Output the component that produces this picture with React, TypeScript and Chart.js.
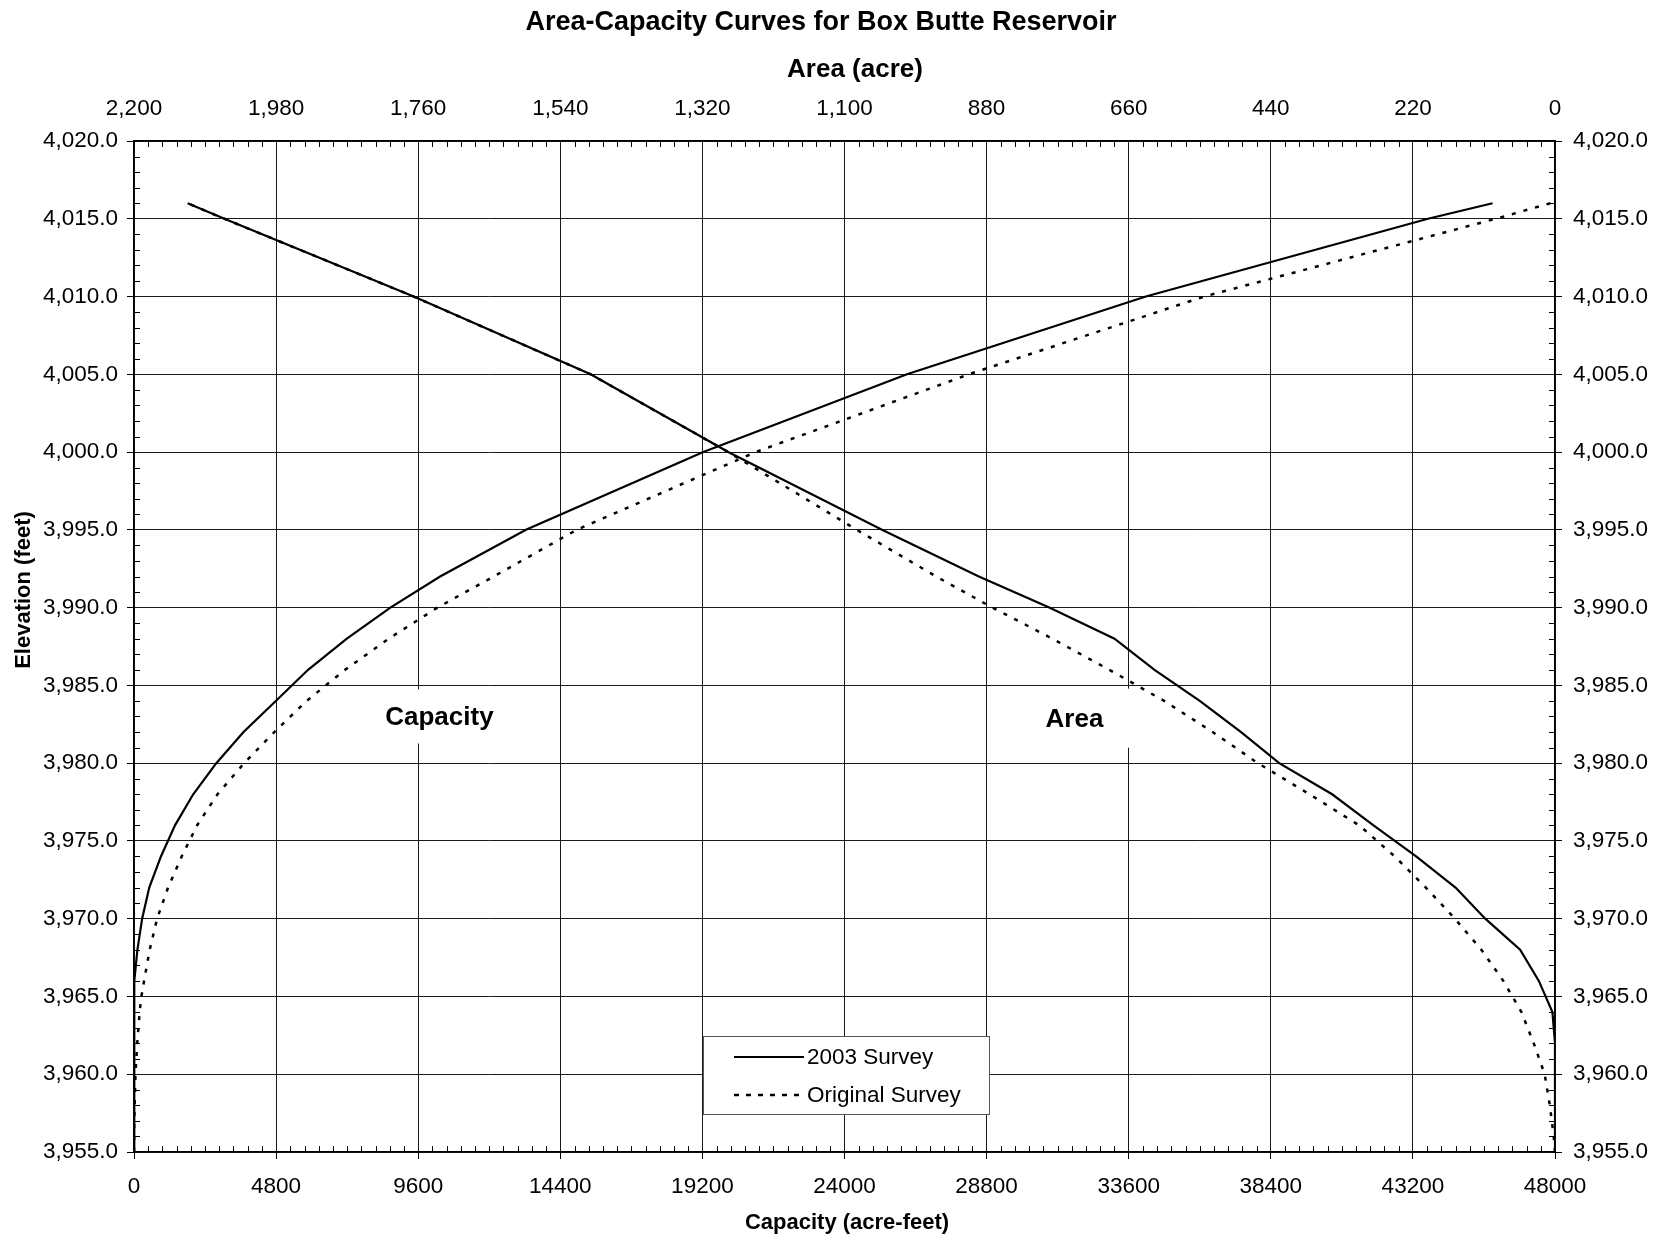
import React, { useEffect, useRef } from "react";
import { Chart, registerables } from "chart.js";

Chart.register(...registerables);

// ---- Data ----
const elev2003Capacity = [3955, 3960, 3962, 3964, 3966, 3968, 3970, 3972, 3974, 3976, 3978, 3980, 3982, 3984, 3986, 3988, 3990, 3992, 3995, 4000, 4005, 4010, 4015, 4016];
const capacity2003 = [0, 0, 1, 5, 33, 115, 275, 515, 910, 1385, 2000, 2780, 3700, 4790, 5880, 7190, 8660, 10340, 13240, 19230, 26110, 34180, 43710, 45890];

const elevOriginalCapacity = [3955, 3957, 3960, 3962, 3964, 3965, 3966, 3968, 3970, 3972, 3974, 3976, 3978, 3980, 3982, 3984, 3986, 3988, 3990, 3992, 3995, 4000, 4005, 4010, 4015, 4016];
const capacityOriginal = [0, 8, 50, 110, 190, 250, 340, 530, 780, 1150, 1610, 2130, 2820, 3720, 4740, 5830, 7130, 8600, 10250, 12150, 14950, 21000, 28200, 36150, 46000, 47850];

const elev2003Area = [3955, 3960, 3962, 3964, 3966, 3968, 3970, 3972, 3974, 3976, 3978, 3980, 3982, 3984, 3986, 3988, 3990, 3992, 3995, 4000, 4005, 4010, 4015, 4016];
const area2003 = [0, 0, 0, 4, 25, 54, 108, 154, 215, 281, 345, 427, 486, 550, 620, 682, 783, 892, 1042, 1280, 1493, 1767, 2060, 2117];

const elevOriginalArea = [3955, 3956, 3958, 3960, 3962, 3964, 3966, 3968, 3970, 3972, 3974, 3976, 3978, 3980, 3982, 3984, 3986, 3988, 3990, 3992, 3995, 3998, 4000, 4005, 4010, 4015, 4016];
const areaOriginal = [0, 2, 8, 16, 33, 52, 80, 114, 155, 200, 248, 303, 380, 460, 530, 605, 690, 778, 871, 958, 1081, 1200, 1280, 1493, 1767, 2060, 2117];

// ---- Axis ranges / tick steps ----
const CAP_MIN = 0;
const CAP_MAX = 48000;
const CAP_STEP = 4800;
const CAP_MINOR = 480;
const AREA_MIN = 0;
const AREA_MAX = 2200;
const AREA_STEP = 220;
const AREA_MINOR = 22;
const ELEV_MIN = 3955;
const ELEV_MAX = 4020;
const ELEV_STEP = 5;
const ELEV_MINOR = 1;

const TITLE = "Area-Capacity Curves for Box Butte Reservoir";
const TOP_AXIS_TITLE = "Area (acre)";
const BOTTOM_AXIS_TITLE = "Capacity (acre-feet)";
const LEFT_AXIS_TITLE = "Elevation (feet)";
const SERIES_NAMES = ["2003 Survey", "Original Survey"];
const CAPACITY_LABEL = { text: "Capacity", capacity: 10316, elevation: 3983.0 };
const AREA_LABEL = { text: "Area", area: 744, elevation: 3982.86 };

const FONT = "'Liberation Sans', Arial, Helvetica, sans-serif";
const DOT_DASH = [4, 8];

const toPts = (xs: number[], ys: number[]) => xs.map((x, i) => ({ x, y: ys[i] }));

const fmtElev = (v: number) =>
  Number(v).toLocaleString("en-US", { minimumFractionDigits: 1, maximumFractionDigits: 1 });

const decorPlugin = {
  id: "decor",
  beforeDatasetsDraw(chart: any) {
    const { ctx, scales } = chart;
    ctx.save();
    ctx.font = `bold 26px ${FONT}`;
    ctx.textBaseline = "middle";
    ctx.textAlign = "center";
    {
      const cx = scales.x.getPixelForValue(CAPACITY_LABEL.capacity);
      const cy = scales.y.getPixelForValue(CAPACITY_LABEL.elevation);
      const w = ctx.measureText(CAPACITY_LABEL.text).width;
      ctx.fillStyle = "#fff";
      ctx.fillRect(cx - w / 2 - 8, cy - 27, w + 16, 54);
      ctx.fillStyle = "#000";
      ctx.fillText(CAPACITY_LABEL.text, cx, cy + 1);
    }
    {
      const cx = scales.x2.getPixelForValue(AREA_LABEL.area);
      const cy = scales.y.getPixelForValue(AREA_LABEL.elevation);
      const w = ctx.measureText(AREA_LABEL.text).width;
      ctx.fillStyle = "#fff";
      ctx.fillRect(cx - w / 2 - 9, cy - 30, 100, 59);
      ctx.fillStyle = "#000";
      ctx.fillText(AREA_LABEL.text, cx, cy + 1);
    }
    ctx.restore();
  },
  afterDraw(chart: any) {
    const { ctx, scales, chartArea: ca } = chart;
    ctx.save();
    // minor ticks
    ctx.strokeStyle = "#000";
    ctx.lineWidth = 1;
    ctx.beginPath();
    for (let v = CAP_MIN; v <= CAP_MAX; v += CAP_MINOR) {
      if (v % CAP_STEP === 0) continue;
      const x = Math.round(scales.x.getPixelForValue(v)) + 0.5;
      ctx.moveTo(x, ca.bottom);
      ctx.lineTo(x, ca.bottom - 6);
    }
    for (let a = AREA_MIN; a <= AREA_MAX; a += AREA_MINOR) {
      if (a % AREA_STEP === 0) continue;
      const x = Math.round(scales.x2.getPixelForValue(a)) + 0.5;
      ctx.moveTo(x, ca.top);
      ctx.lineTo(x, ca.top + 6);
    }
    for (let e = ELEV_MIN; e <= ELEV_MAX; e += ELEV_MINOR) {
      if ((e - ELEV_MIN) % ELEV_STEP === 0) continue;
      const y = Math.round(scales.y.getPixelForValue(e)) + 0.5;
      ctx.moveTo(ca.left, y);
      ctx.lineTo(ca.left + 6, y);
      ctx.moveTo(ca.right, y);
      ctx.lineTo(ca.right - 6, y);
    }
    ctx.stroke();

    // titles
    ctx.fillStyle = "#000";
    ctx.textAlign = "center";
    ctx.textBaseline = "middle";
    ctx.font = `bold 27px ${FONT}`;
    ctx.fillText(TITLE, 821, 23);
    ctx.font = `bold 26px ${FONT}`;
    ctx.fillText(TOP_AXIS_TITLE, 855, 70);
    ctx.font = `bold 22px ${FONT}`;
    ctx.fillText(BOTTOM_AXIS_TITLE, 847, 1223);
    ctx.save();
    ctx.translate(24, 590);
    ctx.rotate(-Math.PI / 2);
    ctx.fillText(LEFT_AXIS_TITLE, 0, 0);
    ctx.restore();

    // legend
    const lx = 703.5, ly = 1036.5, lw = 286, lh = 78;
    ctx.fillStyle = "#fff";
    ctx.fillRect(lx, ly, lw, lh);
    ctx.strokeStyle = "#555";
    ctx.lineWidth = 1;
    ctx.strokeRect(lx, ly, lw, lh);
    ctx.strokeStyle = "#000";
    ctx.lineWidth = 2;
    ctx.beginPath();
    ctx.moveTo(734, 1057);
    ctx.lineTo(804, 1057);
    ctx.stroke();
    ctx.lineWidth = 2.5;
    ctx.setLineDash([5, 7]);
    ctx.beginPath();
    ctx.moveTo(734, 1095);
    ctx.lineTo(806, 1095);
    ctx.stroke();
    ctx.setLineDash([]);
    ctx.fillStyle = "#000";
    ctx.font = `22.5px ${FONT}`;
    ctx.textAlign = "left";
    ctx.fillText(SERIES_NAMES[0], 807, 1058);
    ctx.fillText(SERIES_NAMES[1], 807, 1096);
    ctx.restore();
  },
};

export default function App() {
  const ref = useRef<HTMLCanvasElement>(null);
  useEffect(() => {
    document.body.style.margin = "0";
    const canvas = ref.current!;
    const tickFont = { family: FONT, size: 22.5 };
    const chart = new Chart(canvas, {
      type: "scatter",
      data: {
        datasets: [
          {
            label: SERIES_NAMES[0] + " capacity",
            data: toPts(capacity2003, elev2003Capacity),
            xAxisID: "x",
            yAxisID: "y",
            showLine: true,
            borderColor: "#000",
            borderWidth: 2.2,
            pointRadius: 0,
            tension: 0,
          },
          {
            label: SERIES_NAMES[0] + " area",
            data: toPts(area2003, elev2003Area),
            xAxisID: "x2",
            yAxisID: "y",
            showLine: true,
            borderColor: "#000",
            borderWidth: 2.2,
            pointRadius: 0,
            tension: 0,
          },
          {
            label: SERIES_NAMES[1] + " capacity",
            data: toPts(capacityOriginal, elevOriginalCapacity),
            xAxisID: "x",
            yAxisID: "y",
            showLine: true,
            borderColor: "#000",
            borderWidth: 2.5,
            borderDash: DOT_DASH,
            pointRadius: 0,
            tension: 0,
          },
          {
            label: SERIES_NAMES[1] + " area",
            data: toPts(areaOriginal, elevOriginalArea),
            xAxisID: "x2",
            yAxisID: "y",
            showLine: true,
            borderColor: "#000",
            borderWidth: 2.5,
            borderDash: DOT_DASH,
            pointRadius: 0,
            tension: 0,
          },
        ],
      } as any,
      options: {
        responsive: false,
        animation: false,
        events: [],
        layout: { padding: 0 },
        plugins: { legend: { display: false }, tooltip: { enabled: false }, title: { display: false } },
        scales: {
          x: {
            type: "linear",
            position: "bottom",
            min: CAP_MIN,
            max: CAP_MAX,
            ticks: {
              stepSize: CAP_STEP,
              autoSkip: false,
              maxRotation: 0,
              padding: 14,
              color: "#000",
              font: tickFont,
              callback: (v: any) => String(v),
            },
            grid: { color: "#1a1a1a", lineWidth: 1, drawTicks: true, tickLength: 7, tickColor: "#000" },
            border: { display: true, color: "#000", width: 1.5 },
            afterFit: (s: any) => { s.height = 86; },
          },
          x2: {
            type: "linear",
            position: "top",
            min: AREA_MIN,
            max: AREA_MAX,
            reverse: true,
            ticks: {
              stepSize: AREA_STEP,
              autoSkip: false,
              maxRotation: 0,
              padding: 12,
              color: "#000",
              font: tickFont,
              callback: (v: any) => Number(v).toLocaleString("en-US"),
            },
            grid: { drawOnChartArea: false, drawTicks: true, tickLength: 7, tickColor: "rgba(0,0,0,0)" },
            border: { display: true, color: "#000", width: 1.5 },
            afterFit: (s: any) => { s.height = 141; },
          },
          y: {
            type: "linear",
            position: "left",
            min: ELEV_MIN,
            max: ELEV_MAX,
            ticks: {
              stepSize: ELEV_STEP,
              autoSkip: false,
              padding: 9,
              color: "#000",
              font: tickFont,
              callback: (v: any) => fmtElev(v),
            },
            grid: { color: "#1a1a1a", lineWidth: 1, drawTicks: true, tickLength: 7, tickColor: "#000" },
            border: { display: true, color: "#000", width: 1.5 },
            afterFit: (s: any) => { s.width = 134; },
          },
          y2: {
            type: "linear",
            position: "right",
            min: ELEV_MIN,
            max: ELEV_MAX,
            ticks: {
              stepSize: ELEV_STEP,
              autoSkip: false,
              padding: 11,
              color: "#000",
              font: tickFont,
              callback: (v: any) => fmtElev(v),
            },
            grid: { drawOnChartArea: false, drawTicks: true, tickLength: 7, tickColor: "#000" },
            border: { display: true, color: "#000", width: 1.5 },
            afterFit: (s: any) => { s.width = 107; },
          },
        },
      } as any,
      plugins: [decorPlugin],
    });
    return () => chart.destroy();
  }, []);
  return (
    <div style={{ width: 1662, height: 1238, overflow: "hidden", background: "#fff" }}>
      <canvas ref={ref} width={1662} height={1238} style={{ display: "block" }} />
    </div>
  );
}
